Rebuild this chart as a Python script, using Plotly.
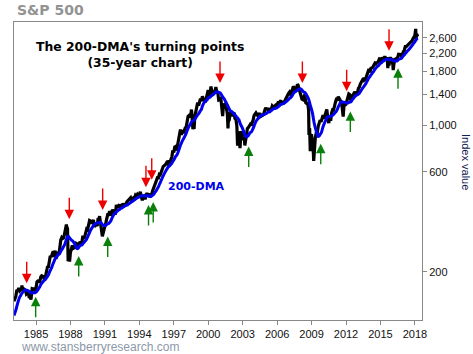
import pandas as pd
import numpy as np
import plotly.graph_objects as go

# Monthly closes of the S&P 500, March 1982 .. March 2018
monthly_start = "1982-03-01"
monthly_close = [
    111.96, 116.4, 111.9, 109.6, 107.1, 119.5, 120.4, 133.7, 138.5, 140.6,
    145.3, 148.1, 153.0, 164.4, 162.4, 168.1, 162.6, 164.4, 166.1, 163.6, 166.4, 164.9,
    163.4, 157.1, 159.2, 160.1, 150.6, 153.2, 150.7, 166.7, 166.1, 166.1, 163.6, 167.2,
    179.6, 181.2, 180.7, 179.8, 189.6, 191.9, 190.9, 188.6, 182.1, 189.8, 202.2, 211.3,
    211.8, 226.9, 238.9, 235.5, 247.4, 250.8, 236.1, 252.9, 231.3, 244.0, 249.2, 242.2,
    274.1, 284.2, 291.7, 288.4, 290.1, 304.0, 318.7, 329.8, 321.8, 251.8, 230.3, 247.1,
    257.1, 267.8, 258.9, 261.3, 262.2, 273.5, 272.0, 261.5, 271.9, 279.0, 273.7, 277.7,
    297.5, 288.9, 294.9, 309.6, 320.5, 318.0, 346.1, 351.5, 349.2, 340.4, 346.0, 353.4,
    329.1, 331.9, 339.9, 330.8, 361.2, 358.0, 356.2, 322.6, 306.1, 304.0, 322.2, 330.2,
    343.9, 367.1, 375.2, 375.3, 389.8, 371.2, 387.8, 395.4, 387.9, 392.5, 375.2, 417.1,
    408.8, 412.7, 403.7, 415.0, 415.4, 408.1, 424.2, 414.0, 417.8, 418.7, 431.4, 435.7,
    438.8, 443.4, 451.7, 440.2, 450.2, 451.0, 448.1, 463.6, 458.9, 467.8, 461.8, 466.5,
    481.6, 467.1, 445.8, 450.9, 456.5, 444.3, 458.3, 475.5, 462.7, 472.4, 453.7, 459.3,
    470.4, 487.4, 500.7, 514.7, 533.4, 544.8, 562.1, 561.9, 584.4, 581.5, 605.4, 615.9,
    636.0, 640.4, 645.5, 654.2, 669.1, 670.6, 640.0, 652.0, 687.3, 705.3, 757.0, 740.7,
    786.2, 790.8, 757.1, 801.3, 848.3, 885.1, 954.3, 899.5, 947.3, 914.6, 955.4, 970.4,
    980.3, 1049.3, 1101.8, 1111.8, 1090.8, 1133.8, 1120.7, 957.3, 1017.0, 1098.7, 1163.6, 1229.2,
    1279.6, 1238.3, 1286.4, 1335.2, 1301.8, 1372.7, 1328.7, 1320.4, 1282.7, 1362.9, 1389.0, 1469.3,
    1394.5, 1366.4, 1498.6, 1452.4, 1420.6, 1454.6, 1430.8, 1517.7, 1436.5, 1429.4, 1315.2, 1320.3,
    1366.0, 1239.9, 1160.3, 1249.5, 1255.8, 1224.4, 1211.2, 1133.6, 1040.9, 1059.8, 1139.5, 1148.1,
    1130.2, 1106.7, 1147.4, 1076.9, 1067.1, 989.8, 911.6, 916.1, 815.3, 885.8, 936.3, 879.8,
    855.7, 841.2, 848.2, 916.9, 963.6, 974.5, 990.3, 1008.0, 996.0, 1050.7, 1058.2, 1111.9,
    1131.1, 1144.9, 1126.2, 1107.3, 1120.7, 1140.8, 1101.7, 1104.2, 1114.6, 1130.2, 1173.8, 1211.9,
    1181.3, 1203.6, 1180.6, 1156.9, 1191.5, 1191.3, 1234.2, 1220.3, 1228.8, 1207.0, 1249.5, 1248.3,
    1280.1, 1280.7, 1294.9, 1310.6, 1270.1, 1270.2, 1276.7, 1303.8, 1335.9, 1377.9, 1400.6, 1418.3,
    1438.2, 1406.8, 1420.9, 1482.4, 1530.6, 1503.4, 1455.3, 1474.0, 1526.8, 1549.4, 1481.1, 1468.4,
    1378.6, 1330.6, 1322.7, 1385.6, 1400.4, 1280.0, 1267.4, 1282.8, 1166.4, 968.8, 896.2, 903.3,
    825.9, 735.1, 797.9, 872.8, 919.1, 919.3, 987.5, 1020.6, 1057.1, 1036.2, 1095.6, 1115.1,
    1073.9, 1104.5, 1169.4, 1186.7, 1089.4, 1030.7, 1101.6, 1049.3, 1141.2, 1183.3, 1180.6, 1257.6,
    1286.1, 1327.2, 1325.8, 1363.6, 1345.2, 1320.6, 1292.3, 1218.9, 1131.4, 1253.3, 1247.0, 1257.6,
    1312.4, 1365.7, 1408.5, 1397.9, 1310.3, 1362.2, 1379.3, 1406.6, 1440.7, 1412.2, 1416.2, 1426.2,
    1498.1, 1514.7, 1569.2, 1597.6, 1630.7, 1606.3, 1685.7, 1633.0, 1681.6, 1756.5, 1805.8, 1848.4,
    1782.6, 1859.5, 1872.3, 1884.0, 1923.6, 1960.2, 1930.7, 2003.4, 1972.3, 2018.1, 2067.6, 2058.9,
    1995.0, 2104.5, 2067.9, 2085.5, 2107.4, 2063.1, 2103.8, 1972.2, 1920.0, 2079.4, 2080.4, 2043.9,
    1940.2, 1932.2, 2059.7, 2065.3, 2097.0, 2098.9, 2173.6, 2171.0, 2168.3, 2126.2, 2198.8, 2238.8,
    2278.9, 2363.6, 2362.7, 2384.2, 2411.8, 2423.4, 2470.3, 2471.7, 2519.4, 2575.3, 2647.6, 2673.6,
    2823.8, 2713.8, 2640.9,
]

# Intra-month extremes (daily closes)
extreme_dates = [
    "1983-10-10", "1984-07-24", "1987-08-25", "1987-10-19", "1987-12-04", "1990-07-16",
    "1990-10-11", "1994-02-02", "1994-04-04", "1998-07-17", "1998-10-08", "2000-03-24",
    "2001-04-04", "2001-09-21", "2002-07-23", "2002-10-09", "2003-03-11", "2007-10-09",
    "2008-10-10", "2008-11-20", "2009-03-09", "2010-07-02", "2011-10-03", "2015-05-21",
    "2015-08-25", "2016-02-11", "2018-01-26", "2018-02-08",
]
extreme_values = [
    172.7, 147.8, 336.8, 224.8, 223.9, 369.0,
    295.5, 482.0, 438.9, 1186.8, 959.4, 1527.5,
    1103.3, 965.8, 797.7, 776.8, 800.7, 1565.2,
    899.2, 752.4, 676.5, 1022.6, 1099.2, 2130.8,
    1867.6, 1829.1, 2872.9, 2581.0,
]

# Turning-point arrows (tip date and level)
red_dates = ["1984-03-10", "1987-11-25", "1990-10-22", "1994-07-30", "1995-01-30",
             "2001-01-10", "2008-03-14", "2012-01-22", "2015-10-01"]
red_values = [177, 357, 395, 507, 550, 1589, 1589, 1450, 2259]
green_dates = ["1984-12-20", "1988-09-20", "1991-04-01", "1994-10-20", "1995-03-18",
               "2003-07-12", "2009-10-20", "2012-05-18", "2016-07-12"]
green_values = [152.5, 238, 295, 417, 431, 792, 816, 1163, 1866]

y_tick_vals = [200, 600, 1000, 1400, 1800, 2200, 2600]
y_tick_text = ["200", "600", "1,000", "1,400", "1,800", "2,200", "2,600"]
x_tick_years = list(range(1985, 2019, 3))

# ---- build series ----
m_dates = pd.date_range(monthly_start, periods=len(monthly_close), freq="MS") + pd.offsets.MonthEnd(0)
monthly = pd.Series(monthly_close, index=m_dates)
dma = monthly.rolling(10).mean()
start = pd.Timestamp("1983-01-31")
dma = dma[dma.index >= start]
price = pd.concat([monthly, pd.Series(extreme_values, index=pd.to_datetime(extreme_dates))]).sort_index()
price = price[price.index >= start]

fig = go.Figure()
fig.add_trace(go.Scatter(x=price.index, y=price.values, mode="lines",
                         line=dict(color="black", width=3.2), hoverinfo="skip"))
fig.add_trace(go.Scatter(x=dma.index, y=dma.values, mode="lines",
                         line=dict(color="#0000ee", width=3, shape="spline"), hoverinfo="skip"))

for d, v in zip(red_dates, red_values):
    fig.add_annotation(x=d, y=np.log10(v), xref="x", yref="y", text="", showarrow=True,
                       ax=0, ay=-23, arrowhead=2, arrowsize=1.35, arrowwidth=1.4, arrowcolor="#ee0000")
for d, v in zip(green_dates, green_values):
    fig.add_annotation(x=d, y=np.log10(v), xref="x", yref="y", text="", showarrow=True,
                       ax=0, ay=22, arrowhead=2, arrowsize=1.35, arrowwidth=1.4, arrowcolor="#0a7f0a")

fig.add_annotation(x=0.309, y=0.891, xref="paper", yref="paper", showarrow=False,
                   xanchor="center", yanchor="middle",
                   text="<b>The 200-DMA's turning points<br>(35-year chart)</b>",
                   font=dict(family="DejaVu Sans", size=12.4, color="black"), align="center")
fig.add_annotation(x=0.3725, y=0.447, xref="paper", yref="paper", showarrow=False, xanchor="left",
                   yanchor="middle",
                   text="<b>200-DMA</b>", font=dict(family="DejaVu Sans", size=11, color="#0000ee"))
fig.add_annotation(x=0.002, y=1.0403, xref="paper", yref="paper", showarrow=False, xanchor="left",
                   yanchor="middle",
                   text="<b>S&P 500</b>", font=dict(family="DejaVu Sans", size=14, color="#939393"))
fig.add_annotation(x=0.012, y=0, xref="paper", yref="paper", showarrow=False, xanchor="left",
                   yanchor="top", yshift=-18,
                   text="www.stansberryresearch.com",
                   font=dict(family="Liberation Sans", size=12, color="#8c98a8"))
fig.add_annotation(x=1, y=0.53, xref="paper", yref="paper", showarrow=False, xanchor="center",
                   xshift=44, textangle=90, text="Index value",
                   font=dict(family="Liberation Sans", size=11, color="#102050"))

fig.update_layout(
    width=473, height=354, margin=dict(l=14, r=51, t=22, b=34),
    paper_bgcolor="white", plot_bgcolor="white", showlegend=False,
    xaxis=dict(type="date", range=["1983-01-31", "2018-08-15"],
               tickvals=[f"{y}-01-01" for y in x_tick_years], ticktext=[str(y) for y in x_tick_years],
               ticks="outside", ticklen=4, tickcolor="#888", showgrid=False, zeroline=False,
               showline=True, linecolor="#888", linewidth=1, mirror=True,
               tickfont=dict(family="Liberation Sans", size=11, color="#111")),
    yaxis=dict(type="log", range=[2.0725, 3.4911], side="right",
               tickvals=y_tick_vals, ticktext=y_tick_text,
               ticks="outside", ticklen=4, tickcolor="#888", showgrid=False, zeroline=False,
               showline=True, linecolor="#888", linewidth=1, mirror=True,
               tickfont=dict(family="Liberation Sans", size=11, color="#111")),
)

fig.write_html("out.html")
